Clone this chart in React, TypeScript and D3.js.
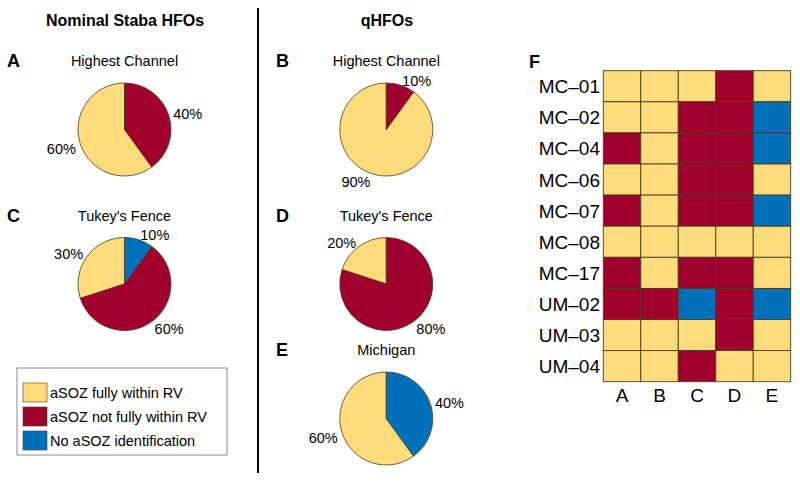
import React from 'react';
import * as d3 from 'd3';

const categories = ['aSOZ fully within RV', 'aSOZ not fully within RV', 'No aSOZ identification'];
const colors = ['#FEDB7B', '#A1002F', '#0070BA'];

// pie values in percent, order: [fully within, not fully within, no identification]
const pieA = [60, 40, 0];
const pieB = [90, 10, 0];
const pieC = [30, 60, 10];
const pieD = [20, 80, 0];
const pieE = [60, 0, 40];

const patients = ['MC–01', 'MC–02', 'MC–04', 'MC–06', 'MC–07', 'MC–08', 'MC–17', 'UM–02', 'UM–03', 'UM–04'];
const methods = ['A', 'B', 'C', 'D', 'E'];
// 0 = fully within, 1 = not fully within, 2 = no identification
const outcome = [
  [0, 0, 0, 1, 0],
  [0, 0, 1, 1, 2],
  [1, 0, 1, 1, 2],
  [0, 0, 1, 1, 0],
  [1, 0, 1, 1, 2],
  [0, 0, 0, 0, 0],
  [1, 0, 1, 1, 0],
  [1, 1, 2, 1, 2],
  [0, 0, 0, 1, 0],
  [0, 0, 1, 0, 0],
];

const FONT = '"Liberation Sans", Arial, Helvetica, sans-serif';
const EDGE = '#4a3d1c';

type PieSpec = { letter: string; title: string; values: number[]; cx: number; cy: number };

const pies: PieSpec[] = [
  { letter: 'A', title: 'Highest Channel', values: pieA, cx: 124.5, cy: 129.5 },
  { letter: 'C', title: "Tukey's Fence", values: pieC, cx: 124.5, cy: 284 },
  { letter: 'B', title: 'Highest Channel', values: pieB, cx: 386.3, cy: 129.5 },
  { letter: 'D', title: "Tukey's Fence", values: pieD, cx: 386.3, cy: 284 },
  { letter: 'E', title: 'Michigan', values: pieE, cx: 386.3, cy: 418.5 },
];

const R = 46.5;

function PiePanel({ spec }: { spec: PieSpec }) {
  const items = spec.values.map((v, i) => ({ v, i })).filter((d) => d.v > 0);
  const gen = d3
    .pie<{ v: number; i: number }>()
    .value((d) => d.v)
    .sort(null)
    .startAngle(0)
    .endAngle(-2 * Math.PI);
  const arcs = gen(items);
  const arc = d3.arc<d3.PieArcDatum<{ v: number; i: number }>>().innerRadius(0).outerRadius(R);
  const letterX = spec.cx < 200 ? 7 : 276;
  return (
    <g>
      <text x={letterX} y={spec.cy - 62.5} fontFamily={FONT} fontWeight="bold" fontSize={18}>
        {spec.letter}
      </text>
      <text x={spec.cx} y={spec.cy - 63.5} textAnchor="middle" fontFamily={FONT} fontSize={14.5}>
        {spec.title}
      </text>
      <g transform={`translate(${spec.cx},${spec.cy})`}>
        {arcs.map((a, k) => (
          <path key={k} d={arc(a) || ''} fill={colors[a.data.i]} stroke={EDGE} strokeWidth={0.8} />
        ))}
        {arcs.map((a, k) => {
          const mid = (a.startAngle + a.endAngle) / 2;
          const lx = Math.sin(mid) * R * 1.1;
          const ly = -Math.cos(mid) * R * 1.1;
          return (
            <text
              key={'t' + k}
              x={lx}
              y={ly + (ly > 0 ? 9 : 5)}
              textAnchor={lx >= 0 ? 'start' : 'end'}
              fontFamily={FONT}
              fontSize={14.5}
            >
              {`${a.data.v}%`}
            </text>
          );
        })}
      </g>
    </g>
  );
}

function Heatmap() {
  const x = d3.scaleBand<string>().domain(methods).range([603.3, 790.7]);
  const y = d3.scaleBand<string>().domain(patients).range([70.7, 381.7]);
  return (
    <g>
      <text x={529} y={68} fontFamily={FONT} fontWeight="bold" fontSize={18}>
        F
      </text>
      {outcome.map((row, r) =>
        row.map((c, j) => (
          <rect
            key={`${r}-${j}`}
            x={x(methods[j])}
            y={y(patients[r])}
            width={x.bandwidth()}
            height={y.bandwidth()}
            fill={colors[c]}
            stroke={EDGE}
            strokeWidth={0.9}
          />
        ))
      )}
      {patients.map((p) => (
        <text
          key={p}
          x={600}
          y={(y(p) || 0) + y.bandwidth() / 2 + 7}
          textAnchor="end"
          fontFamily={FONT}
          fontSize={19}
        >
          {p}
        </text>
      ))}
      {methods.map((m) => (
        <text key={m} x={(x(m) || 0) + x.bandwidth() / 2} y={402} textAnchor="middle" fontFamily={FONT} fontSize={19}>
          {m}
        </text>
      ))}
    </g>
  );
}

function Legend() {
  return (
    <g>
      <rect x={17} y={368} width={210} height={87} fill="white" stroke="#8a8a8a" strokeWidth={1} />
      {categories.map((c, i) => (
        <g key={c}>
          <rect x={23} y={383 + i * 24} width={24} height={19} fill={colors[i]} stroke={EDGE} strokeWidth={0.6} />
          <text x={50} y={397.5 + i * 24} fontFamily={FONT} fontSize={14.5}>
            {c}
          </text>
        </g>
      ))}
    </g>
  );
}

export default function App() {
  return (
    <svg
      width={800}
      height={484}
      style={{ position: 'absolute', left: 0, top: 0, background: 'white', display: 'block' }}
    >
      <rect width={800} height={484} fill="white" />
      <text x={125} y={26} textAnchor="middle" fontFamily={FONT} fontWeight="bold" fontSize={16}>
        Nominal Staba HFOs
      </text>
      <text x={387} y={26} textAnchor="middle" fontFamily={FONT} fontWeight="bold" fontSize={16}>
        qHFOs
      </text>
      <line x1={258} x2={258} y1={8} y2={473} stroke="black" strokeWidth={2} />
      {pies.map((p) => (
        <PiePanel key={p.letter} spec={p} />
      ))}
      <Legend />
      <Heatmap />
    </svg>
  );
}
